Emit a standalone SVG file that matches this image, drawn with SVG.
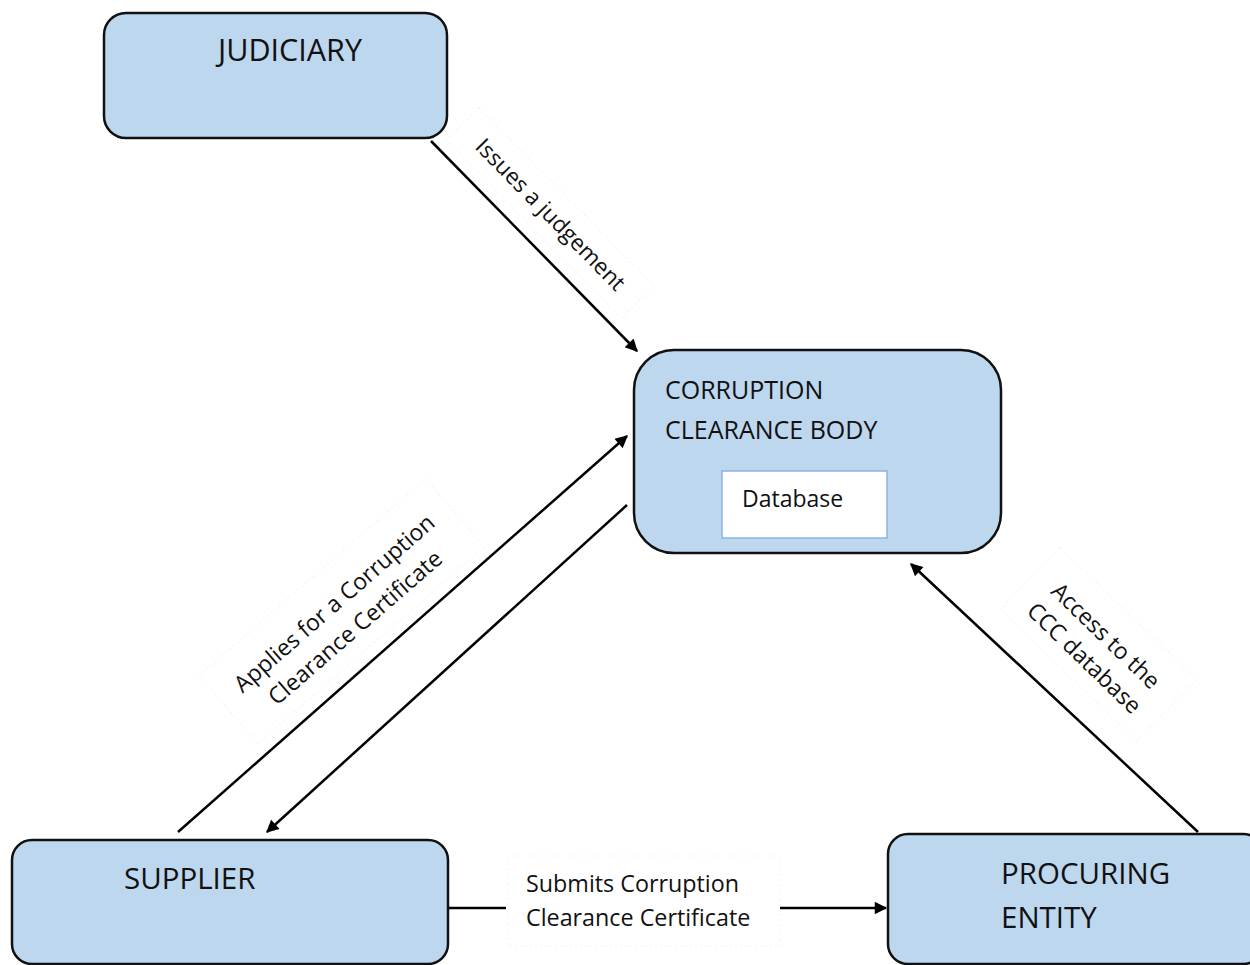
<svg xmlns="http://www.w3.org/2000/svg" width="1250" height="965" viewBox="0 0 1250 965">
  <style>
    .node { fill: #bdd7ee; stroke: #111; stroke-width: 2.5; }
    .txt { font-family: "Open Sans", "Noto Sans", "Liberation Sans", sans-serif; fill: #111; }
    .edge { stroke: #000; stroke-width: 2.5; fill: none; }
    .lbox { fill: #fff; stroke: #f3f3f3; stroke-width: 1; stroke-dasharray: 2 3; }
  </style>
  <defs>
    <marker id="arrow" viewBox="0 0 10 10" refX="9" refY="5" markerWidth="6" markerHeight="5" markerUnits="strokeWidth" orient="auto">
      <path d="M0,0 L10,5 L0,10 z" fill="#000"/>
    </marker>
  </defs>
  <rect width="1250" height="965" fill="#fff"/>

  <!-- label backgrounds -->
  <g id="label-boxes">
    <rect class="lbox" x="508" y="856" width="272" height="90"/>
    <rect class="lbox" transform="translate(548,215) rotate(45.5)" x="-125" y="-26" width="250" height="46"/>
    <rect class="lbox" transform="translate(345,615) rotate(-41)" x="-150" y="-50" width="300" height="90"/>
    <rect class="lbox" transform="translate(1095,648) rotate(44)" x="-95" y="-48" width="190" height="86"/>
  </g>

  <!-- connectors -->
  <g id="connectors">
    <line class="edge" x1="431" y1="141" x2="637" y2="351" marker-end="url(#arrow)"/>
    <line class="edge" x1="178" y1="832" x2="627" y2="436" marker-end="url(#arrow)"/>
    <line class="edge" x1="627" y1="505" x2="267" y2="832" marker-end="url(#arrow)"/>
    <line class="edge" x1="1198" y1="832" x2="911" y2="564" marker-end="url(#arrow)"/>
    <line class="edge" x1="448" y1="908" x2="506" y2="908"/>
    <line class="edge" x1="780" y1="908" x2="886" y2="908" marker-end="url(#arrow)"/>

    <text class="txt" font-size="22.5" text-anchor="middle" transform="translate(545,220) rotate(45.5)">Issues a judgement</text>
    <g transform="translate(346,617) rotate(-41)">
      <text class="txt" font-size="23" text-anchor="middle" x="0" y="-10">Applies for a Corruption</text>
      <text class="txt" font-size="23" text-anchor="middle" x="0" y="22">Clearance Certificate</text>
    </g>
    <g transform="translate(1094,648) rotate(44)">
      <text class="txt" font-size="23" text-anchor="middle" x="0" y="-9">Access to the</text>
      <text class="txt" font-size="23" text-anchor="middle" x="0" y="22">CCC database</text>
    </g>
    <text class="txt" font-size="23.3" x="526" y="892">Submits Corruption</text>
    <text class="txt" font-size="23.3" x="526" y="926">Clearance Certificate</text>
  </g>

  <!-- nodes -->
  <g id="judiciary">
    <rect class="node" x="104" y="13" width="343" height="125" rx="22"/>
    <text class="txt" font-size="30.5" x="218" y="61">JUDICIARY</text>
  </g>

  <g id="ccb">
    <rect class="node" x="634" y="350" width="367" height="203" rx="40"/>
    <text class="txt" font-size="25" x="665" y="399">CORRUPTION</text>
    <text class="txt" font-size="25" x="665" y="439">CLEARANCE BODY</text>
    <g id="database">
      <rect x="722" y="471" width="165" height="67" fill="#fff" stroke="#8db4e2" stroke-width="1.5"/>
      <text class="txt" font-size="23" x="742" y="507">Database</text>
    </g>
  </g>

  <g id="supplier">
    <rect class="node" x="12" y="840" width="436" height="124" rx="20"/>
    <text class="txt" font-size="29.5" x="124" y="889">SUPPLIER</text>
  </g>

  <g id="procuring">
    <rect class="node" x="888" y="834" width="375" height="130" rx="20"/>
    <text class="txt" font-size="29.5" x="1001" y="884">PROCURING</text>
    <text class="txt" font-size="29.5" x="1001" y="928">ENTITY</text>
  </g>
</svg>
